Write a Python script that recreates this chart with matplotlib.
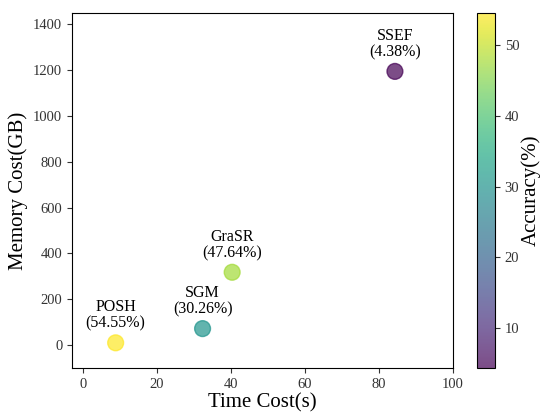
import numpy as np
import matplotlib.pyplot as plt

plt.rcParams['font.family'] = ['Liberation Serif', 'DejaVu Serif']

# datos
metodos = ['POSH', 'SGM', 'GraSR', 'SSEF']
tiempo = [8.8, 32.3, 40.3, 84.3]
memoria = [10, 72, 318, 1195]
precision = [54.55, 30.26, 47.64, 4.38]

fig = plt.figure(figsize=(5.43, 4.12), dpi=100)
ax = fig.add_axes([72 / 543, 1 - 368 / 412, 381 / 543, 355 / 412])
cax = fig.add_axes([477 / 543, 1 - 368 / 412, 18 / 543, 355 / 412])

sc = ax.scatter(tiempo, memoria, c=precision, cmap='viridis', s=130, alpha=0.7,
                vmin=min(precision), vmax=max(precision))

# etiqueta de cada método con su precisión
for m, x, y, p in zip(metodos, tiempo, memoria, precision):
    ax.annotate(f'{m}\n({p:.2f}%)', (x, y), textcoords='offset points', xytext=(0, 8),
                ha='center', va='bottom', fontsize=11.5, linespacing=1.05)

ax.set_xlim(-3, 100)
ax.set_ylim(-100, 1450)
ax.set_xticks([0, 20, 40, 60, 80, 100])
ax.set_yticks([0, 200, 400, 600, 800, 1000, 1200, 1400])
ax.tick_params(labelsize=10.5, colors='#333333')
ax.set_xlabel('Time Cost(s)', fontsize=15, labelpad=2)
ax.set_ylabel('Memory Cost(GB)', fontsize=15)

cb = fig.colorbar(sc, cax=cax)
cb.set_label('Accuracy(%)', fontsize=15, labelpad=1)
cb.ax.tick_params(labelsize=10.5, colors='#333333')

fig.savefig('out.png', dpi=100)
